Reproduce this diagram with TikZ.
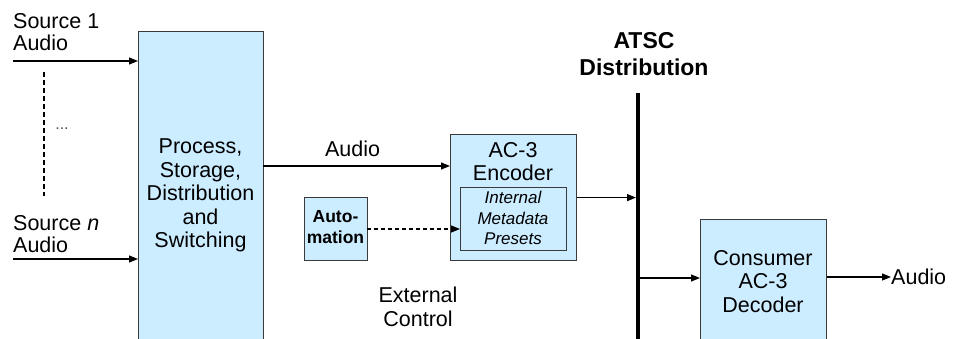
\documentclass[tikz,border=0pt]{standalone}
\usepackage{fontspec}
\setmainfont{Liberation Sans}
\usetikzlibrary{arrows.meta}
\definecolor{boxfill}{HTML}{CCECFF}
\definecolor{boxline}{HTML}{3A3A3A}
\tikzset{
  blk/.style={draw=boxline, fill=boxfill, line width=1.2pt, inner sep=0pt, anchor=north west},
  txt/.style={font=\fontsize{21.5}{23.5}\selectfont, align=center, inner sep=0pt},
  srctxt/.style={txt, align=left, anchor=north west, font=\fontsize{21.5}{22}\selectfont},
  arr/.style={-{Triangle[length=9pt,width=7pt]}, line width=1.2pt},
  dasharr/.style={arr, dash pattern=on 4pt off 3pt},
}
\begin{document}
\begin{tikzpicture}[x=1pt,y=-1pt]
\useasboundingbox (0,0) rectangle (953,339);
\clip (0,0) rectangle (953,339);
% boxes
\node[blk, minimum width=125pt, minimum height=320pt] (proc) at (138,31) {};
\node[blk, minimum width=126pt, minimum height=126pt] (enc) at (450,134) {};
\node[blk, minimum width=106pt, minimum height=63pt] (meta) at (460,187) {};
\node[blk, minimum width=63pt, minimum height=63pt] (auto) at (304,197) {};
\node[blk, minimum width=126pt, minimum height=130pt] (dec) at (700,219) {};
% texts
\node[srctxt] (src1) at (13,13) {Source 1\\Audio};
\node[srctxt] (srcn) at (13,215) {Source \textit{n}\\Audio};
\node[font=\fontsize{16}{16}\selectfont, text=black!70, inner sep=0pt] (dots) at (62,129) {...};
\node[txt, anchor=north] (proctxt) at (200.5,139) {Process,\\Storage,\\Distribution\\and\\Switching};
\node[txt, anchor=north] (audlbl) at (352.5,141) {Audio};
\node[txt, anchor=north] (enctxt) at (513,142) {AC-3\\Encoder};
\node[txt, anchor=north, font=\fontsize{17}{20.5}\selectfont\itshape] (metatxt) at (513,191) {Internal\\Metadata\\Presets};
\node[txt, anchor=north, font=\fontsize{17.5}{21}\selectfont\bfseries] (autotxt) at (335.5,210) {Auto-\\mation};
\node[txt, anchor=north] (exttxt) at (418,287) {External\\Control};
\node[txt, anchor=north, font=\fontsize{23}{27}\selectfont\bfseries] (atsc) at (644,32) {ATSC\\Distribution};
\node[txt, anchor=north] (dectxt) at (763,250) {Consumer\\AC-3\\Decoder};
\node[txt, anchor=west] (aout) at (891,277) {Audio};
% coordinates
\coordinate (s1) at (13,61);
\coordinate (sn) at (13,259);
\coordinate (dtop) at (44,72);
\coordinate (dbot) at (44,196);
\coordinate (a1) at (263,166);
\coordinate (bustop) at (638,93);
\coordinate (busbot) at (638,345);
\coordinate (din) at (638,278);
\coordinate (ctl) at (367,229);
% connectors
\draw[arr] (s1) -- (s1 -| proc.west);
\draw[arr] (sn) -- (sn -| proc.west);
\draw[line width=1.2pt, dash pattern=on 5pt off 3pt] (dtop) -- (dbot);
\draw[arr] (a1) -- (a1 -| enc.west);
\draw[dasharr] (ctl) -- (ctl -| meta.west);
\draw[line width=4pt] (bustop) -- (busbot);
\draw[arr, shorten >=2pt] (enc.east) -- (enc.east -| bustop);
\draw[arr] (din) -- (din -| dec.west);
\draw[arr] (dec.east |- aout.west) -- (aout.west);
\end{tikzpicture}
\end{document}
